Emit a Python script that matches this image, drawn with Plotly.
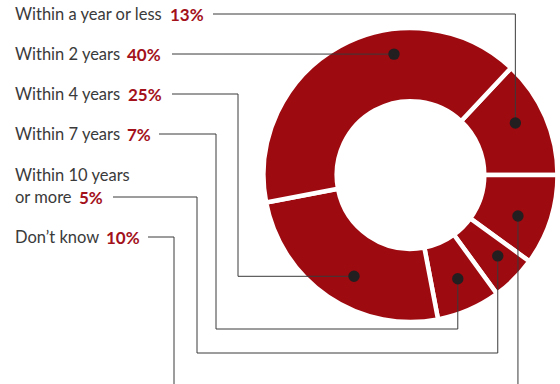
import math
import plotly.graph_objects as go

# ---- data (listing order, top to bottom) ----
categories = ["Within a year or less", "Within 2 years", "Within 4 years",
              "Within 7 years", "Within 10 years or more", "Don’t know"]
label_lines = [["Within a year or less"], ["Within 2 years"], ["Within 4 years"],
               ["Within 7 years"], ["Within 10 years", "or more"], ["Don’t know"]]
values = [13, 40, 25, 7, 5, 10]
pct_labels = ["13%", "40%", "25%", "7%", "5%", "10%"]
# order of slices clockwise around the ring
ring_order = [0, 5, 4, 3, 2, 1]

# ---- layout / style ----
W, H = 560, 384
CX, CY = 410.5, 175.0       # ring centre (px)
R_OUT = 147.0               # outer radius incl. white stroke
HOLE = 0.502
GAP = 4.5
ROTATION = 43.2             # start angle of first slice, clockwise from 12 o'clock
RING_COLOR = "#9d0a10"
PCT_COLOR = "#a3111b"
TEXT_COLOR = "#3a3a3a"
LINE_COLOR = "#3a3a3a"
DOT_COLOR = "#231f20"
FONT = "Lato"
FS = 16.5
PAD = 2                     # annotation inner padding compensation

row_y = [14, 54, 94, 134, 197, 237]
line_gap = 22
label_x = 15
pct_x = [170, 127, 128, 127, 79, 106]
lead_x0 = [213, 172, 172, 159, 113, 148]
# dot placement within each slice (fraction of the slice's angle, radius px)
dot_frac = [0.437, 0.646, 0.444, 0.456, 0.38, 0.58]
dot_r = [117, 122, 116, 114, 119, 115]
DOT_R = 5.7

fig = go.Figure()

ordered_vals = [values[i] for i in ring_order]
ordered_cats = [categories[i] for i in ring_order]
fig.add_trace(go.Pie(
    labels=ordered_cats, values=ordered_vals, sort=False, direction="clockwise",
    rotation=ROTATION, hole=HOLE, textinfo="none", hoverinfo="skip",
    marker=dict(colors=[RING_COLOR] * len(values), line=dict(color="white", width=GAP)),
    domain=dict(x=[(CX - R_OUT) / W, (CX + R_OUT) / W],
                y=[1 - (CY + R_OUT) / H, 1 - (CY - R_OUT) / H]),
    showlegend=False,
))
# invisible trace to make the cartesian axes exist
fig.add_trace(go.Scatter(x=[0, W], y=[0, H], mode="markers", marker=dict(opacity=0),
                         hoverinfo="skip", showlegend=False))

# slice angles from data
total = sum(values)
start = {}
span = {}
a = ROTATION
for i in ring_order:
    start[i] = a
    span[i] = values[i] / total * 360.0
    a += span[i]

dots = []
for i in range(len(values)):
    ang = math.radians(start[i] + dot_frac[i] * span[i])
    dots.append((CX + dot_r[i] * math.sin(ang), CY - dot_r[i] * math.cos(ang)))

# leader paths
d = dots
paths = [
    [(lead_x0[0], row_y[0]), (d[0][0], row_y[0]), d[0]],
    [(lead_x0[1], row_y[1]), d[1]],
    [(lead_x0[2], row_y[2]), (238, row_y[2]), (238, d[2][1]), d[2]],
    [(lead_x0[3], row_y[3]), (216, row_y[3]), (216, 329), (d[3][0], 329), d[3]],
    [(lead_x0[4], row_y[4]), (197, row_y[4]), (197, 353), (d[4][0], 353), d[4]],
    [(lead_x0[5], row_y[5]), (174, row_y[5]), (174, H + 5)],
    [d[5], (d[5][0], H + 5)],
]

shapes = []
for p in paths:
    s = "M " + " L ".join(f"{q[0]:.2f},{q[1]:.2f}" for q in p)
    shapes.append(dict(type="path", path=s, xref="x", yref="y", layer="above",
                       line=dict(color=LINE_COLOR, width=1)))
for (x, y) in dots:
    shapes.append(dict(type="circle", xref="x", yref="y", layer="above",
                       x0=x - DOT_R, x1=x + DOT_R, y0=y - DOT_R, y1=y + DOT_R,
                       fillcolor=DOT_COLOR, line=dict(width=0)))

annotations = []
for i in range(len(values)):
    lines = label_lines[i]
    for k, t in enumerate(lines):
        yy = row_y[i] - (len(lines) - 1 - k) * line_gap
        annotations.append(dict(x=label_x - PAD, y=yy, xref="x", yref="y", text=t,
                                showarrow=False, xanchor="left", yanchor="middle",
                                font=dict(family=FONT, size=FS, color=TEXT_COLOR)))
    annotations.append(dict(x=pct_x[i] - PAD, y=row_y[i], xref="x", yref="y",
                            text="<b>" + pct_labels[i] + "</b>", showarrow=False,
                            xanchor="left", yanchor="middle",
                            font=dict(family=FONT, size=FS + 0.5, color=PCT_COLOR)))

fig.update_layout(
    width=W, height=H, margin=dict(l=0, r=0, t=0, b=0),
    paper_bgcolor="white", plot_bgcolor="rgba(0,0,0,0)",
    xaxis=dict(range=[0, W], visible=False, fixedrange=True),
    yaxis=dict(range=[H, 0], visible=False, fixedrange=True),
    annotations=annotations, shapes=shapes,
)

fig.write_html("out.html", config={"displayModeBar": False},
               post_script="document.body.style.margin='0';document.body.style.overflow='hidden';")
